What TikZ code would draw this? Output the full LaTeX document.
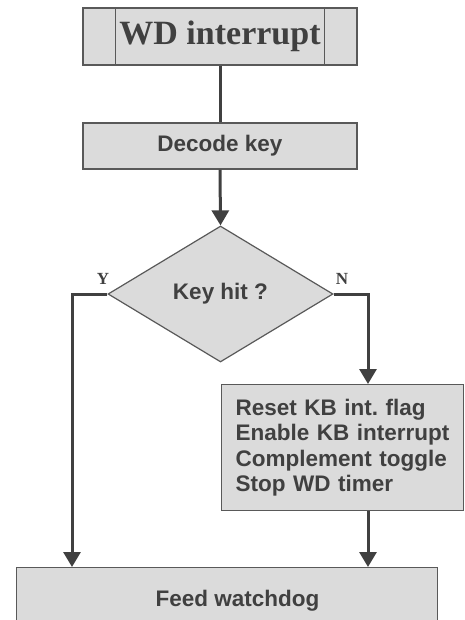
\documentclass[tikz,border=0pt]{standalone}
\usepackage{fontspec}
\setmainfont{Liberation Serif}
\setsansfont{Liberation Sans}
\usetikzlibrary{shapes.geometric,arrows.meta,positioning}
\definecolor{boxfill}{gray}{0.86}
\definecolor{boxline}{gray}{0.35}
\definecolor{flowline}{gray}{0.25}

\begin{document}
\frenchspacing
\begin{tikzpicture}[x=1pt,y=-1pt,
    box/.style={rectangle,draw=boxline,line width=1.2pt,fill=boxfill,text=flowline,
      font=\sffamily\bfseries\fontsize{22.5}{25.3}\selectfont,inner sep=0pt},
    flow/.style={draw=flowline,line width=3pt,-{Triangle[length=15pt,width=17pt]}},
    link/.style={draw=flowline,line width=3pt},
    yn/.style={text=flowline,font=\rmfamily\bfseries\fontsize{17}{17}\selectfont}]
      \useasboundingbox (0,0) rectangle (465,620);

      %start
      \node[box,minimum width=274pt,minimum height=57pt,
        font=\rmfamily\bfseries\fontsize{34}{34}\selectfont] (wd) at (220,36.5) {WD interrupt};
      \draw[boxline,line width=1.2pt] ([xshift=33pt]wd.north west) -- ([xshift=33pt]wd.south west);
      \draw[boxline,line width=1.2pt] ([xshift=-33pt]wd.north east) -- ([xshift=-33pt]wd.south east);

      %decode
      \node[box,minimum width=274pt,minimum height=46pt] (decode) at (220,146) {Decode key};

      %decision
      \node[box,diamond,minimum width=225pt,minimum height=136pt] (hit) at (220.5,294) {Key hit ?};
      \node[yn] (yes) at (103,279) {Y};
      \node[yn] (no) at (342,279) {N};

      %actions
      \node[box,anchor=north west,minimum width=242pt,minimum height=126pt,
        text width=214pt,inner xsep=14pt,align=left] (reset) at (221,384)
        {Reset KB int. flag\\Enable KB interrupt\\Complement toggle\\Stop WD timer};
      \node[box,anchor=north west,minimum width=421pt,minimum height=66pt] (feed) at (16,567)
        {\hspace*{21pt}Feed watchdog};

      %connectors
      \draw[link] (wd.south) -- (decode.north);
      \draw[flow] (decode.south) -- (hit.north);
      \draw[flow] (hit.west) -| ([xshift=56pt]feed.north west);
      \draw[flow] (hit.east) -| ([xshift=147pt]reset.north west);
      \draw[flow] ([xshift=147pt]reset.south west) -- ([xshift=147pt]reset.south west |- feed.north);

    \end{tikzpicture}
\end{document}
